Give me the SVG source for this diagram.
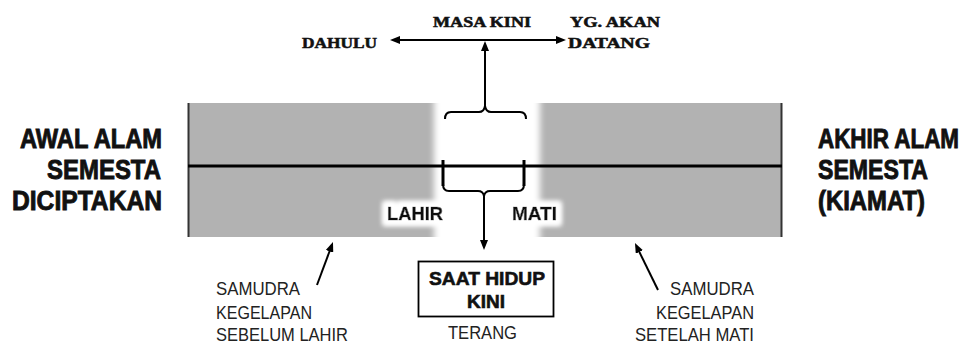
<svg xmlns="http://www.w3.org/2000/svg" width="967" height="345" viewBox="0 0 967 345">
<style>
.serif{font-family:"Liberation Serif","DejaVu Serif",serif;font-weight:bold;font-size:14px;fill:#111;stroke:#111;stroke-width:0.5}
.big{font-family:"Liberation Sans",Arial,sans-serif;font-weight:bold;font-size:27px;fill:#111;stroke:#111;stroke-width:0.9}
.mid{font-family:"Liberation Sans",Arial,sans-serif;font-weight:bold;font-size:19px;fill:#111;stroke:#111;stroke-width:0.6}
.thin{font-family:"Liberation Sans",Arial,sans-serif;font-size:18px;fill:#222}
.ln{fill:none;stroke:#000;stroke-width:2}
</style>
<defs>
<marker id="ah" markerUnits="userSpaceOnUse" markerWidth="10" markerHeight="8" refX="2" refY="4" orient="auto-start-reverse">
<path d="M0,0 L10,4 L0,8 z" fill="#000"/>
</marker>
<filter id="gapblur" x="-20%" y="-5%" width="140%" height="110%">
<feGaussianBlur stdDeviation="3 0"/>
</filter>
<filter id="halo" x="-40%" y="-80%" width="180%" height="260%">
<feMorphology in="SourceAlpha" operator="dilate" radius="5" result="d"/>
<feGaussianBlur in="d" stdDeviation="2.5" result="b"/>
<feFlood flood-color="#ffffff"/>
<feComposite in2="b" operator="in" result="w"/>
<feMerge><feMergeNode in="w"/><feMergeNode in="w"/><feMergeNode in="SourceGraphic"/></feMerge>
</filter>
</defs>

<g id="band">
<rect x="188" y="103" width="594" height="134" fill="#b2b2b2"/>
<rect x="434" y="95" width="106" height="150" fill="#ffffff" filter="url(#gapblur)"/>
<line x1="188.5" y1="103" x2="188.5" y2="237" stroke="#333" stroke-width="2"/>
<line x1="781.5" y1="103" x2="781.5" y2="237" stroke="#333" stroke-width="2"/>
<line x1="188" y1="166" x2="782" y2="166" stroke="#000" stroke-width="3"/>
</g>

<g id="connectors">
<line x1="398" y1="40" x2="558" y2="40" class="ln" marker-start="url(#ah)" marker-end="url(#ah)"/>
<line x1="485" y1="107" x2="485" y2="49" class="ln" marker-end="url(#ah)"/>
<path class="ln" stroke-width="1.6" d="M445,119 Q445,112 451,112 L479,112 Q484,112 485,106 Q486,112 491,112 L520,112 Q526,112 526,119"/>
<line x1="443" y1="160" x2="443" y2="186" stroke="#000" stroke-width="3"/>
<line x1="524" y1="160" x2="524" y2="186" stroke="#000" stroke-width="3"/>
<path class="ln" stroke-width="1.6" d="M443,184 Q443,191 449,191 L478,191 Q483,191 484,196 Q485,191 490,191 L518,191 Q524,191 524,184"/>
<line x1="484" y1="196" x2="484" y2="242" class="ln" marker-end="url(#ah)"/>
<line x1="317" y1="285" x2="330.2" y2="249.5" class="ln" marker-end="url(#ah)"/>
<line x1="658" y1="290" x2="638.5" y2="250.2" class="ln" marker-end="url(#ah)"/>
</g>

<g id="top-labels">
<text class="serif" x="433" y="27" textLength="98" lengthAdjust="spacingAndGlyphs">MASA KINI</text>
<text class="serif" x="302" y="48" textLength="75" lengthAdjust="spacingAndGlyphs">DAHULU</text>
<text class="serif" x="570" y="27" textLength="90" lengthAdjust="spacingAndGlyphs">YG. AKAN</text>
<text class="serif" x="568" y="48" textLength="82" lengthAdjust="spacingAndGlyphs">DATANG</text>
</g>

<g id="awal">
<text class="big" x="20" y="148" textLength="142" lengthAdjust="spacingAndGlyphs">AWAL ALAM</text>
<text class="big" x="47" y="179" textLength="114" lengthAdjust="spacingAndGlyphs">SEMESTA</text>
<text class="big" x="12" y="210" textLength="150" lengthAdjust="spacingAndGlyphs">DICIPTAKAN</text>
</g>

<g id="akhir">
<text class="big" transform="translate(818,148) scale(0.83,1)">AKHIR ALAM</text>
<text class="big" x="818" y="179" textLength="110" lengthAdjust="spacingAndGlyphs">SEMESTA</text>
<text class="big" x="818" y="210" textLength="107" lengthAdjust="spacingAndGlyphs">(KIAMAT)</text>
</g>

<g id="lahir" filter="url(#halo)">
<text class="mid" x="387" y="220" textLength="56" lengthAdjust="spacingAndGlyphs">LAHIR</text>
</g>
<g id="mati" filter="url(#halo)">
<text class="mid" x="512" y="220" textLength="45" lengthAdjust="spacingAndGlyphs">MATI</text>
</g>

<g id="saat-hidup">
<rect x="418.5" y="261.5" width="135" height="55" fill="#fff" stroke="#000" stroke-width="1.8"/>
<text class="mid" x="429" y="285" textLength="116" lengthAdjust="spacingAndGlyphs">SAAT HIDUP</text>
<text class="mid" x="486" y="308" text-anchor="middle">KINI</text>
<text class="thin" x="448" y="339" textLength="69" lengthAdjust="spacingAndGlyphs">TERANG</text>
</g>

<g id="samudra-sebelum">
<text class="thin" x="216" y="295" textLength="84" lengthAdjust="spacingAndGlyphs">SAMUDRA</text>
<text class="thin" x="216" y="319" textLength="96" lengthAdjust="spacingAndGlyphs">KEGELAPAN</text>
<text class="thin" x="216" y="341" textLength="132" lengthAdjust="spacingAndGlyphs">SEBELUM LAHIR</text>
</g>

<g id="samudra-setelah">
<text class="thin" x="670" y="295" textLength="84" lengthAdjust="spacingAndGlyphs">SAMUDRA</text>
<text class="thin" x="656" y="319" textLength="98" lengthAdjust="spacingAndGlyphs">KEGELAPAN</text>
<text class="thin" x="635" y="341" textLength="119" lengthAdjust="spacingAndGlyphs">SETELAH MATI</text>
</g>
</svg>
